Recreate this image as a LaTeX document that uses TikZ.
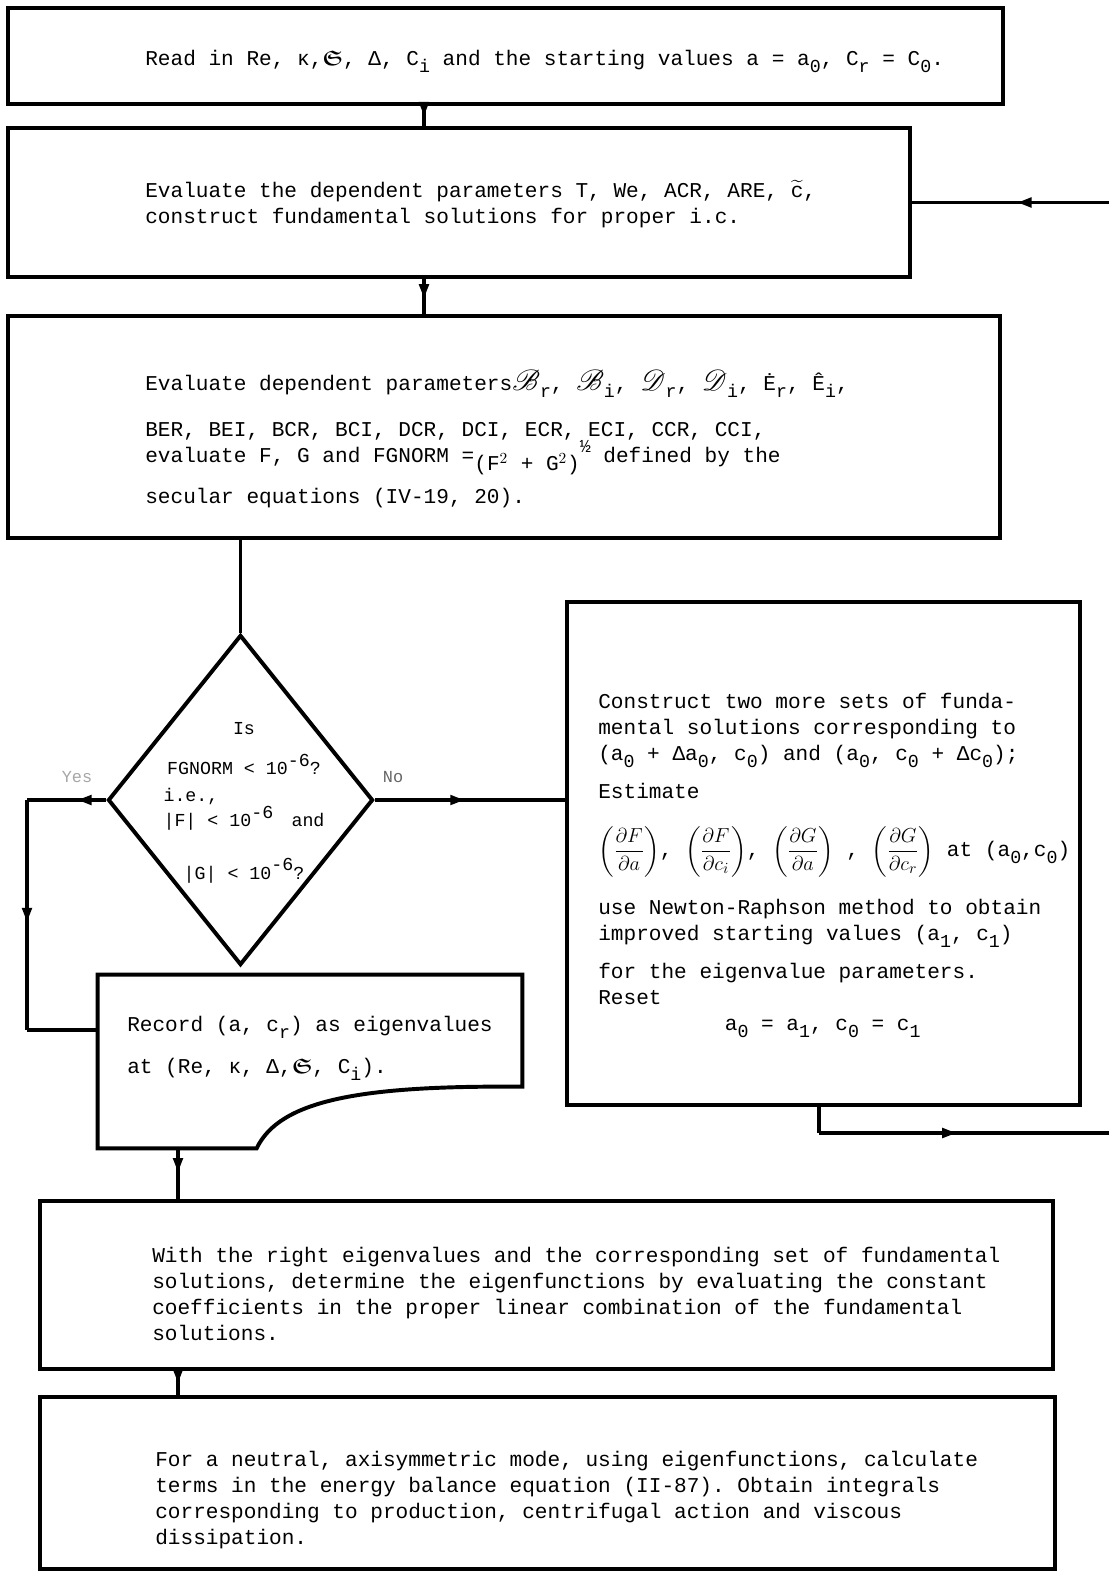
\documentclass[tikz,border=0pt]{standalone}
\usepackage{amsmath}
\usepackage{amssymb}
\usepackage{amsfonts}
\usepackage{bm}
\usepackage{mathrsfs}
\usepackage{fontspec}
\setmonofont{Liberation Mono}
\usetikzlibrary{shapes.geometric,arrows.meta,decorations.markings,calc}

\newcommand{\subx}[1]{\raisebox{-0.6ex}{\fontsize{13}{13}\selectfont #1}}
\newcommand{\supx}[1]{\raisebox{0.9ex}{\fontsize{13}{13}\selectfont #1}}
\newcommand{\bigscr}[2]{{\fontsize{21}{21}\selectfont$\bm{\mathscr{#1}}$}\subx{#2}}

\begin{document}
\begin{tikzpicture}[x=0.025cm, y=-0.025cm, >=stealth]
	\tikzstyle{block} = [draw, line width=2.8pt, inner sep=0pt]
	\tikzstyle{decision} = [draw, diamond, line width=2.8pt, inner sep=0pt]
	\tikzstyle{txt} = [font=\fontsize{15}{18.5}\selectfont\ttfamily, align=left, inner sep=0pt, anchor=north west]
	\tikzstyle{link} = [line width=2.2pt]
	\tikzset{midarrow/.style={postaction={decorate}, decoration={markings,
		mark=at position #1 with {\arrow{Triangle[length=0.35cm,width=0.24cm]}}}},
		midarrow/.default=0.5}
	\useasboundingbox (0,0) rectangle (1109,1573);

	% boxes
	\node[block, minimum width=24.875cm, minimum height=2.4cm] (read) at (505.5,56) {};
	\node[block, minimum width=22.55cm, minimum height=3.725cm] (eval) at (459,202.5) {};
	\node[block, minimum width=24.8cm, minimum height=5.55cm] (params) at (504,427) {};
	\node[decision, minimum width=6.625cm, minimum height=8.25cm] (test) at (240.5,800) {};
	\node[block, minimum width=12.825cm, minimum height=12.575cm] (newton) at (823.5,853.5) {};
	\node[inner sep=0pt, minimum width=10.6cm, minimum height=4.325cm] (record) at (310,1061.5) {};
	\node[block, minimum width=25.325cm, minimum height=4.2cm] (eigen) at (546.5,1285) {};
	\node[block, minimum width=25.375cm, minimum height=4.3cm] (energy) at (547.5,1483) {};
	\draw[line width=2.8pt] (record.north west) -- (record.north east)
		-- ($(record.north east)+(0,112)$)
		.. controls ($(record.south west)+(262,-63)$) and ($(record.south west)+(182,-48)$)
		.. ($(record.south west)+(159,0)$) -- (record.south west) -- cycle;

	% texts
	\node[txt] (readtext) at (145,50) {Read in Re, κ,$\bm{\mathfrak{S}}$, Δ, C\subx{i} and the starting values a = a\subx{0}, C\subx{r} = C\subx{0}.};
	\node[txt] (evaltext) at (145,180) {Evaluate the dependent parameters T, We, ACR, ARE, $\widetilde{\texttt{c}}$,\\
		construct fundamental solutions for proper i.c.};
	\node[txt] (paramtext) at (145,370) {Evaluate dependent parameters\bigscr{B}{r}, \bigscr{B}{i}, \bigscr{D}{r}, \bigscr{D}{i}, \.E\subx{r}, \^E\subx{i},\\[0.5cm]
		BER, BEI, BCR, BCI, DCR, DCI, ECR, ECI, CCR, CCI,\\
		evaluate F, G and FGNORM =\raisebox{-0.7ex}{(F$^2$ + G$^2$)}\supx{½} defined by the\\[0.3cm]
		secular equations (IV-19, 20).};
	\node[font=\fontsize{13}{16}\selectfont\ttfamily, align=center, inner sep=0pt, anchor=north] (testtext) at (244,722) {Is\\[0.45cm]
		FGNORM < 10\supx{-6}?\\[0.1cm]
		i.e.,\phantom{\ 10\supx{-6}\quad and}\\
		|F| < 10\supx{-6}\quad and\\[0.65cm]
		|G| < 10\supx{-6}?};
	\node[txt] (newtontext) at (598,693) {Construct two more sets of funda-\\
		mental solutions corresponding to\\
		(a\subx{0} + Δa\subx{0}, c\subx{0}) and (a\subx{0}, c\subx{0} + Δc\subx{0});\\[0.3cm]
		Estimate\\[0.65cm]
		$\left(\dfrac{\partial F}{\partial a}\right)$, $\left(\dfrac{\partial F}{\partial c_i}\right)$, $\left(\dfrac{\partial G}{\partial a}\right)$ , $\left(\dfrac{\partial G}{\partial c_r}\right)$ at (a\subx{0},c\subx{0})\\[0.52cm]
		use Newton-Raphson method to obtain\\
		improved starting values (a\subx{1}, c\subx{1})\\[0.3cm]
		for the eigenvalue parameters.\\
		Reset\\
		\hspace*{6em}a\subx{0} = a\subx{1}, c\subx{0} = c\subx{1}};
	\node[txt] (recordtext) at (127,1016) {Record (a, c\subx{r}) as eigenvalues\\[0.4cm]
		at (Re, κ, Δ,$\bm{\mathfrak{S}}$, C\subx{i}).};
	\node[txt] (eigentext) at (152,1247) {With the right eigenvalues and the corresponding set of fundamental\\
		solutions, determine the eigenfunctions by evaluating the constant\\
		coefficients in the proper linear combination of the fundamental\\
		solutions.};
	\node[txt] (energytext) at (155,1451) {For a neutral, axisymmetric mode, using eigenfunctions, calculate\\
		terms in the energy balance equation (II-87).  Obtain integrals\\
		corresponding to production, centrifugal action and viscous\\
		dissipation.};
	\node[font=\fontsize{12}{12}\selectfont\ttfamily, text=black!35] (yes) at (77,777) {Yes};
	\node[font=\fontsize{12}{12}\selectfont\ttfamily, text=black!60] (no) at (393,777) {No};

	% connectors
	\coordinate (spine) at (424,0);
	\coordinate (outx) at (178,0);
	\coordinate (yesx) at (27,0);
	\coordinate (yesy) at (0,1030);
	\coordinate (backx) at (1111,0);
	\coordinate (backy) at (0,1133);
	\coordinate (dropx) at (819,0);
	\draw[link, midarrow] (read.south -| spine) -- (eval.north -| spine);
	\draw[link, midarrow=0.55] (eval.south -| spine) -- (params.north -| spine);
	\draw[link] (params.south -| test.north) -- (test.north);
	\draw[link, midarrow=0.36] (test.west) -- (test.west -| yesx);
	\draw[link, midarrow=0.53] (test.west -| yesx) -- (yesx |- yesy);
	\draw[link] (yesx |- yesy) -- (record.west |- yesy);
	\draw[link, midarrow=0.47] (test.east) -- (newton.west |- test.east);
	\draw[link] (newton.south -| dropx) -- (dropx |- backy);
	\draw[link, midarrow=0.47] (dropx |- backy) -- (backx |- backy);
	\draw[link] (backx |- backy) -- (backx |- eval.east);
	\draw[link, midarrow=0.47] (backx |- eval.east) -- (eval.east);
	\draw[link, midarrow=0.47] (record.south -| outx) -- (eigen.north -| outx);
	\draw[link, midarrow] (eigen.south -| outx) -- (energy.north -| outx);
\end{tikzpicture}
\end{document}
